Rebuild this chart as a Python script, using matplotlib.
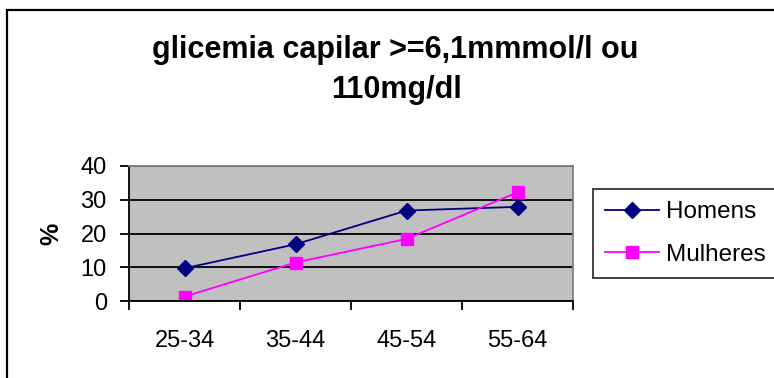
import matplotlib
matplotlib.use("Agg")
import matplotlib.pyplot as plt
from matplotlib.patches import Rectangle

# data
age_groups = ["25-34", "35-44", "45-54", "55-64"]
homens = [9.7, 16.8, 26.8, 27.9]
mulheres = [1.3, 11.4, 18.4, 32.2]

plt.rcParams["font.family"] = ["Liberation Sans", "DejaVu Sans"]

W, H = 774, 378
fig = plt.figure(figsize=(W / 100, H / 100), dpi=100)

# outer chart border (clipped at right and bottom like the reference)
fig.patches.append(Rectangle((7 / W, -0.1), 1.2, 1.1 - 10 / H, transform=fig.transFigure,
                             fill=False, edgecolor="black", linewidth=1.6))

# title, two lines
fig.text(395 / W, 1 - 58 / H, "glicemia capilar >=6,1mmmol/l ou", ha="center", va="baseline",
         fontsize=22, fontweight="bold")
fig.text(397 / W, 1 - 98 / H, "110mg/dl", ha="center", va="baseline",
         fontsize=22, fontweight="bold")

ax = fig.add_axes([129 / W, 1 - 301 / H, (573 - 129) / W, (301 - 166) / H])
ax.set_facecolor("#C0C0C0")

x = list(range(len(age_groups)))
ax.plot(x, homens, color="#000080", marker="D", markersize=8, linewidth=1.3, label="Homens")
ax.plot(x, mulheres, color="#FF00FF", marker="s", markersize=8, linewidth=1.3, label="Mulheres")

ax.set_xlim(-0.5, len(age_groups) - 0.5)
ax.set_ylim(0, 40)
ax.set_yticks([0, 10, 20, 30, 40])
ax.yaxis.grid(True, color="black", linewidth=1.3)
ax.set_axisbelow(True)

ax.set_xticks(x)
ax.set_xticklabels(age_groups)
ax.set_xticks([i - 0.5 for i in range(len(age_groups) + 1)], minor=True)
ax.tick_params(axis="x", which="major", length=0, pad=21, labelsize=17)
ax.tick_params(axis="x", which="minor", length=6.5, width=1.3, direction="out")
ax.tick_params(axis="y", length=6.5, width=1.3, direction="out", labelsize=17, pad=9.5)

for s in ["left", "bottom"]:
    ax.spines[s].set_color("black")
    ax.spines[s].set_linewidth(1.3)
for s in ["top", "right"]:
    ax.spines[s].set_color("#808080")
    ax.spines[s].set_linewidth(1.3)

ax.set_ylabel("%", fontsize=18, fontweight="bold", labelpad=12)

leg = fig.legend(loc="upper left", bbox_to_anchor=(593 / W, 1 - 189 / H), borderaxespad=0,
                 fontsize=17.5, frameon=True, fancybox=False, handlelength=2.2,
                 handletextpad=0.3, borderpad=0.5, labelspacing=0.85)
leg.get_frame().set_edgecolor("black")
leg.get_frame().set_linewidth(1.3)

fig.savefig("out.png", dpi=100)
